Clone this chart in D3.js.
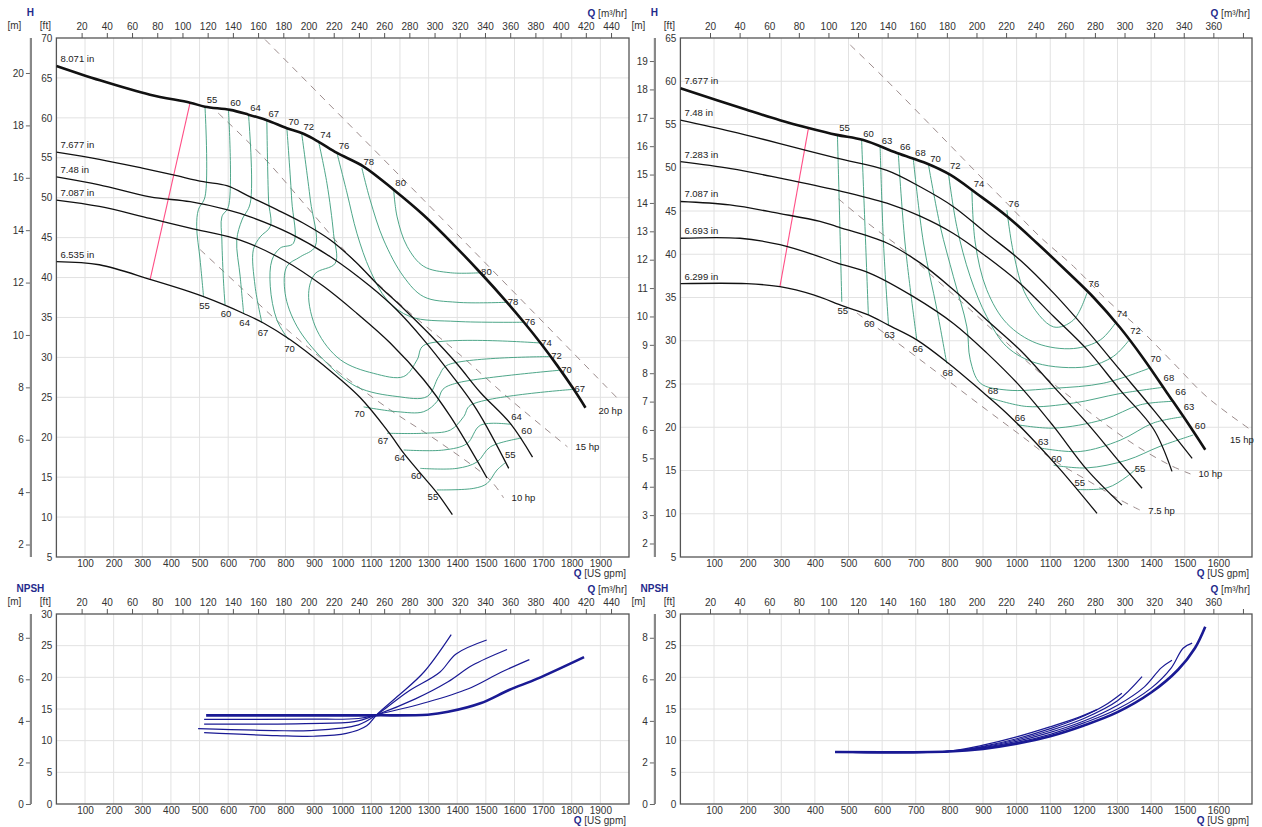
<!DOCTYPE html>
<html><head><meta charset="utf-8">
<script src="https://cdn.jsdelivr.net/npm/d3@7"></script>
<style>body{margin:0;background:#fff;} svg{display:block;font-family:"Liberation Sans",Arial,sans-serif;}</style>
</head><body>
<svg id="c" width="1262" height="827"></svg>
<script>
// ---------------- DATA (Q in US gpm, H in ft) ----------------
const L_gpmTicks = [100,200,300,400,500,600,700,800,900,1000,1100,1200,1300,1400,1500,1600,1700,1800,1900];
const R_gpmTicks = [100,200,300,400,500,600,700,800,900,1000,1100,1200,1300,1400,1500,1600];
const L_m3Ticks = [20,40,60,80,100,120,140,160,180,200,220,240,260,280,300,320,340,360,380,400,420,440];
const R_m3Ticks = [20,40,60,80,100,120,140,160,180,200,220,240,260,280,300,320,340,360,380];
const L_ftTicks = [5,10,15,20,25,30,35,40,45,50,55,60,65,70];
const R_ftTicks = [5,10,15,20,25,30,35,40,45,50,55,60,65];
const L_mTicks = [2,4,6,8,10,12,14,16,18,20];
const R_mTicks = [2,3,4,5,6,7,8,9,10,11,12,13,14,15,16,17,18,19];
const N_ftTicks = [0,5,10,15,20,25,30];
const N_mTicks = [0,2,4,6,8];

// Left pump impeller curves
const L_diameters = ["8.071 in","7.677 in","7.48 in","7.087 in","6.535 in"];
const L_H_8071 = [[0,66.5],[152,64.7],[327,62.9],[467,61.9],[519,61.4],[607,61.0],[671,60.4],[735,59.7],[805,58.7],[863,58.0],[916,57.0],[980,55.6],[1073,53.9],[1178,51.0],[1283,47.8],[1388,44.1],[1481,40.6],[1574,36.9],[1633,34.4],[1691,31.8],[1749,29.0],[1807,26.0],[1848,23.7]];
const L_H_7677 = [[0,55.7],[150,54.8],[300,53.7],[408,52.85],[513,52.0],[595,51.5],[677,50.1],[770,48.5],[863,46.8],[957,44.7],[1050,41.8],[1120,39.2],[1213,36.1],[1306,32.8],[1399,29.2],[1481,25.6],[1586,21.7],[1663,17.5]];
const L_H_748 = [[0,52.6],[150,51.6],[327,50.1],[467,49.5],[595,48.5],[677,47.6],[817,45.5],[957,42.6],[1096,38.9],[1190,35.9],[1283,32.2],[1376,28.0],[1469,23.4],[1580,16.1]];
const L_H_7087 = [[0,49.7],[150,48.9],[327,47.4],[467,46.2],[642,44.7],[793,42.2],[933,38.9],[1050,35.5],[1166,31.8],[1283,27.2],[1376,22.6],[1504,14.9]];
const L_H_6535 = [[0,42.0],[150,41.6],[333,39.7],[467,38.2],[514,37.6],[584,36.6],[654,35.5],[723,34.3],[817,32.2],[933,29.0],[1060,25.0],[1161,20.6],[1213,18.0],[1271,15.5],[1330,13.0],[1383,10.3]];
const L_curves = [L_H_8071,L_H_7677,L_H_748,L_H_7087,L_H_6535];

// Left efficiency lines (%)
const L_effLevelsA = [55,60,64,67,70,72,74,76,78,80];
const L_effA = [
 [[519,61.4],[519,50.1],[496,48.5],[490,46.4],[502,42.2],[514,37.6]],
 [[601,61.0],[601,48.9],[578,47.6],[578,44.7],[584,39.3],[589,36.6]],
 [[671,60.4],[677,49.3],[648,47.2],[630,44.7],[642,40.1],[654,35.5]],
 [[735,59.7],[741,49.7],[747,46.4],[712,45.1],[688,43.5],[694,38.9],[718,34.3]],
 [[805,58.7],[822,49.7],[828,44.3],[782,43.7],[753,42.2],[747,38.9],[770,34.7],[811,32.2]],
 [[857,58.0],[887,49.7],[904,43.9],[852,42.6],[805,41.4],[799,38.0],[840,33.9],[933,29.7],[1050,26.3],[1190,25.1],[1295,25.1],[1335,27.6],[1364,29.0],[1726,30.1]],
 [[916,57.0],[945,51.8],[968,45.5],[974,41.8],[904,40.5],[881,38.0],[910,33.4],[992,29.7],[1108,28.0],[1213,27.6],[1260,29.7],[1283,31.5],[1691,31.8]],
 [[980,55.6],[1015,50.6],[1050,45.5],[1096,40.9],[1155,37.2],[1236,35.1],[1399,34.5],[1633,34.4]],
 [[1067,53.7],[1096,49.7],[1143,44.7],[1213,40.1],[1283,37.6],[1399,36.9],[1574,36.9]],
 [[1178,51.0],[1190,47.6],[1225,43.9],[1283,41.4],[1376,40.6],[1481,40.6]]
];
const L_effLevelsB = [70,67,64,60,55];
const L_effB = [
 [[1073,23.8],[1190,23.2],[1283,23.2],[1330,24.5],[1350,26.0],[1400,26.8],[1761,28.4]],
 [[1155,20.5],[1283,20.5],[1376,20.9],[1423,22.6],[1446,24.0],[1807,26.0]],
 [[1213,18.4],[1353,18.4],[1434,19.2],[1481,21.5],[1590,21.6]],
 [[1271,16.1],[1399,16.1],[1469,16.9],[1516,18.8],[1625,19.9]],
 [[1329,13.4],[1458,13.6],[1504,14.2],[1539,15.9],[1568,16.8]]
];
const L_powerNames = ["20 hp","15 hp","10 hp"];
const L_power = [
 [[729,69.8],[1283,49.7],[1970,24.5]],
 [[565,60.6],[722,55.1],[876,48.8],[1027,42.6],[1212,36.3],[1401,30.6],[1586,24.7],[1785,18.8]],
 [[502,43.5],[643,38.8],[818,33.1],[992,28.0],[1167,23.4],[1341,19.3],[1516,14.6],[1562,12.4]]
];
const L_pink = [[467,61.9],[327,39.7]];

// Right pump impeller curves
const R_diameters = ["7.677 in","7.48 in","7.283 in","7.087 in","6.693 in","6.299 in"];
const R_H_7677 = [[0,59.2],[197,56.7],[296,55.5],[381,54.6],[465,53.8],[544,53.2],[644,51.7],[733,50.5],[802,49.2],[882,47.0],[971,44.4],[1060,41.3],[1150,38.0],[1229,35.0],[1308,31.5],[1378,27.9],[1447,24.0],[1507,20.6],[1561,17.4]];
const R_H_748 = [[0,55.5],[150,54.2],[296,52.8],[465,51.1],[614,49.7],[713,47.8],[812,45.5],[911,42.4],[1011,39.3],[1110,35.5],[1209,31.2],[1308,26.6],[1407,22.0],[1522,16.4]];
const R_H_7283 = [[0,50.7],[150,49.9],[296,48.8],[465,47.4],[614,45.9],[713,44.4],[812,42.4],[911,39.7],[1011,36.6],[1110,32.8],[1209,29.0],[1308,24.3],[1407,19.8],[1462,14.9]];
const R_H_7087 = [[0,46.1],[147,45.7],[296,44.7],[415,43.8],[465,43.2],[614,41.3],[713,39.0],[812,35.9],[911,32.4],[1011,28.9],[1110,24.7],[1209,20.5],[1308,15.9],[1373,12.95]];
const R_H_6693 = [[0,41.85],[177,41.85],[296,41.1],[415,39.7],[465,39.0],[564,37.8],[693,35.1],[812,32.0],[911,28.6],[1011,24.7],[1110,20.1],[1209,15.1],[1313,11.0]];
const R_H_6299 = [[0,36.6],[197,36.6],[296,36.25],[396,35.3],[485,34.0],[559,33.0],[619,31.8],[703,30.1],[797,27.4],[892,24.3],[971,21.6],[1050,18.5],[1130,15.1],[1239,10.05]];
const R_curves = [R_H_7677,R_H_748,R_H_7283,R_H_7087,R_H_6693,R_H_6299];

const R_effLevelsA = [55,60,63,66,68,70,72,74,76];
const R_effA = [
 [[467,53.8],[473,45.1],[480,34.5]],
 [[539,53.2],[549,43.2],[559,33.0]],
 [[594,52.4],[604,41.3],[619,31.8]],
 [[648,51.7],[668,41.3],[703,30.1]],
 [[693,50.9],[723,41.3],[763,33.6],[792,27.4]],
 [[738,50.3],[773,43.2],[812,37.4],[852,31.6],[862,27.8],[892,25.1],[971,24.3],[1110,24.5],[1259,25.1],[1393,26.8]],
 [[797,49.4],[822,43.2],[862,37.4],[911,32.8],[971,29.3],[1060,27.4],[1209,27.0],[1288,28.2],[1333,30.0]],
 [[867,47.4],[877,41.3],[911,35.9],[971,32.0],[1060,29.7],[1169,29.1],[1249,30.1],[1293,32.0]],
 [[971,45.1],[991,40.1],[1030,35.1],[1110,31.6],[1169,32.4],[1209,35.5]]
];
const R_effLevelsB = [68,66,63,60,55];
const R_effB = [
 [[921,23.4],[1030,22.4],[1169,22.8],[1308,23.9],[1432,24.6]],
 [[1001,20.3],[1110,19.9],[1259,20.9],[1368,22.6],[1467,23.0]],
 [[1070,17.6],[1189,17.2],[1308,18.5],[1407,20.5],[1492,21.2]],
 [[1110,15.6],[1209,15.3],[1328,16.2],[1427,17.8],[1525,19.1]],
 [[1179,12.8],[1269,13.0],[1328,14.3],[1358,15.3]]
];
const R_powerNames = ["15 hp","10 hp","7.5 hp"];
const R_power = [
 [[505,64.2],[603,60.5],[792,53.0],[882,49.4],[971,45.9],[1070,42.0],[1169,38.6],[1269,34.7],[1368,31.3],[1467,27.4],[1566,23.5],[1700,19.6]],
 [[470,46.4],[564,43.4],[663,40.5],[763,37.0],[862,33.6],[961,30.1],[1060,26.6],[1159,23.5],[1259,20.5],[1358,17.8],[1457,15.6],[1517,14.6]],
 [[525,33.2],[634,30.1],[792,25.5],[911,22.0],[1011,19.1],[1110,16.2],[1209,13.9],[1308,11.6],[1368,10.4]]
];
const R_pink = [[381,54.6],[296,36.25]];

// NPSH (ft)
const L_npsh_8071 = [[523,14.0],[700,14.0],[900,14.0],[1112,14.0],[1297,14.1],[1368,14.55],[1481,15.9],[1581,18.0],[1680,19.8],[1843,23.2]];
const L_npsh_7677 = [[516,13.35],[880,13.4],[1055,13.5],[1119,14.1],[1297,16.1],[1439,18.2],[1553,20.8],[1652,22.8]];
const L_npsh_748 = [[516,12.6],[870,12.7],[1041,13.0],[1119,14.1],[1254,16.6],[1368,19.3],[1453,21.9],[1574,24.4]];
const L_npsh_7087 = [[495,11.9],[760,11.6],[885,11.6],[1055,12.5],[1119,14.1],[1226,17.7],[1339,20.8],[1396,23.7],[1503,25.9]];
const L_npsh_6535 = [[516,11.26],[770,10.8],[899,10.7],[1013,11.15],[1084,12.36],[1119,14.1],[1197,17.2],[1283,20.8],[1379,26.75]];
const L_npsh = [L_npsh_8071,L_npsh_7677,L_npsh_748,L_npsh_7087,L_npsh_6535];

const R_npsh_7677 = [[460,8.2],[800,8.3],[900,8.7],[1000,9.5],[1100,10.7],[1200,12.4],[1300,14.5],[1400,17.6],[1480,21.2],[1530,24.6],[1561,28.0]];
const R_npsh_748 = [[460,8.2],[800,8.3],[900,8.8],[1000,9.7],[1100,11.0],[1200,12.8],[1300,15.0],[1400,18.3],[1460,21.5],[1495,24.6],[1522,25.4]];
const R_npsh_7283 = [[460,8.2],[800,8.3],[900,8.9],[1000,9.9],[1100,11.3],[1200,13.1],[1300,15.6],[1380,18.5],[1430,21.5],[1462,22.7]];
const R_npsh_7087 = [[460,8.2],[800,8.3],[900,9.0],[1000,10.1],[1100,11.6],[1200,13.5],[1300,16.3],[1373,20.1]];
const R_npsh_6693 = [[460,8.2],[800,8.3],[900,9.1],[1000,10.3],[1100,11.9],[1200,13.9],[1260,15.5],[1313,17.5]];
const R_npsh_6299 = [[460,8.2],[800,8.35],[900,9.3],[1000,10.6],[1100,12.2],[1180,13.6],[1239,14.9]];
const R_npsh = [R_npsh_7677,R_npsh_748,R_npsh_7283,R_npsh_7087,R_npsh_6693,R_npsh_6299];

// ---------------- DRAWING ----------------
const GPM_PER_M3H = 4.402868, FT_PER_M = 3.28084;
const BLUE = "#1f2a8c", TXT = "#333";
const svg = d3.select("#c");

function makePanel(p){
  const g = svg.append("g");
  const x = d3.scaleLinear().domain([0,p.qMax]).range([p.x0,p.x1]);
  const y = d3.scaleLinear().domain([p.hMin,p.hMax]).range([p.y1,p.y0]);
  const xm3 = d3.scaleLinear().domain([0,p.qMax/GPM_PER_M3H]).range([p.x0,p.x1]);
  const ym = d3.scaleLinear().domain([p.hMin/FT_PER_M,p.hMax/FT_PER_M]).range([p.y1,p.y0]);
  g.append("g").selectAll("line").data(p.gpmTicks).join("line")
    .attr("x1",d=>x(d)).attr("x2",d=>x(d)).attr("y1",p.y0).attr("y2",p.y1)
    .attr("stroke","#e2e2e2").attr("stroke-width",1);
  g.append("g").selectAll("line").data(p.ftTicks.filter(t=>t>p.hMin&&t<p.hMax)).join("line")
    .attr("x1",p.x0).attr("x2",p.x1).attr("y1",d=>y(d)).attr("y2",d=>y(d))
    .attr("stroke","#e2e2e2").attr("stroke-width",1);
  const style = sel=>{ sel.selectAll("text").attr("font-family","Liberation Sans, Arial, sans-serif").attr("font-size",10).attr("fill",TXT);
    sel.selectAll("line").attr("stroke","#555"); sel.select(".domain").remove(); };
  const fmt = d3.format("d");
  const top = d3.axisTop(xm3).tickValues(p.m3Ticks).tickSize(5).tickPadding(3)
    .tickFormat(d=> (p.x1 - xm3(d) > 12) ? fmt(d) : "");
  g.append("g").attr("transform",`translate(0,${p.y0})`).call(top).call(style);
  const bot = d3.axisBottom(x).tickValues(p.gpmTicks).tickSize(0).tickPadding(3).tickFormat(fmt);
  g.append("g").attr("transform",`translate(0,${p.y1})`).call(bot).call(style);
  const lft = d3.axisLeft(y).tickValues(p.ftTicks).tickSize(0).tickPadding(4).tickFormat(fmt);
  g.append("g").attr("transform",`translate(${p.x0},0)`).call(lft).call(style);
  const mx = p.x0 - 25.5;
  const mAx = d3.axisLeft(ym).tickValues(p.mTicks).tickSize(5).tickPadding(2).tickFormat(fmt);
  g.append("g").attr("transform",`translate(${mx},0)`).call(mAx).call(style)
    .selectAll("line").attr("stroke","#666");
  g.append("line").attr("x1",mx).attr("x2",mx).attr("y1",p.y0).attr("y2",p.y1)
    .attr("stroke","#888").attr("stroke-width",2.2);
  g.append("rect").attr("x",p.x0).attr("y",p.y0).attr("width",p.x1-p.x0).attr("height",p.y1-p.y0)
    .attr("fill","none").attr("stroke","#555").attr("stroke-width",1.3);
  g.append("text").attr("x",p.x0-26).attr("y",p.y0-25).attr("text-anchor","middle").attr("dominant-baseline","middle")
    .attr("font-size",10).attr("font-weight","bold").attr("fill",BLUE).text(p.title);
  g.append("text").attr("x",p.x0-42).attr("y",p.y0-11.5).attr("text-anchor","middle").attr("dominant-baseline","middle")
    .attr("font-size",10).attr("fill",TXT).text("[m]");
  g.append("text").attr("x",p.x0-11).attr("y",p.y0-11.5).attr("text-anchor","middle").attr("dominant-baseline","middle")
    .attr("font-size",10).attr("fill",TXT).text("[ft]");
  const qt = g.append("text").attr("x",p.x1-2).attr("y",p.y0-24).attr("text-anchor","end").attr("dominant-baseline","middle").attr("font-size",10);
  qt.append("tspan").attr("font-weight","bold").attr("fill",BLUE).text("Q");
  qt.append("tspan").attr("fill",TXT).text(" [m³/hr]");
  const qb = g.append("text").attr("x",p.x1-3).attr("y",p.y1+17).attr("text-anchor","end").attr("dominant-baseline","middle").attr("font-size",10);
  qb.append("tspan").attr("font-weight","bold").attr("fill",BLUE).text("Q");
  qb.append("tspan").attr("fill",TXT).text(" [US gpm]");
  const clipId = "clip"+Math.round(p.x0)+"_"+Math.round(p.y0);
  svg.append("clipPath").attr("id",clipId).append("rect").attr("x",p.x0).attr("y",p.y0).attr("width",p.x1-p.x0).attr("height",p.y1-p.y0);
  const plot = svg.append("g").attr("clip-path",`url(#${clipId})`);
  const labels = svg.append("g");
  const line = d3.line().x(d=>x(d[0])).y(d=>y(d[1])).curve(d3.curveCatmullRom.alpha(0.5));
  return {x,y,plot,labels,line,p};
}

function txt(g,xp,yp,s,anchor){
  g.append("text").attr("x",xp).attr("y",yp).attr("text-anchor",anchor||"middle").attr("dominant-baseline","middle")
   .attr("font-size",9.5).attr("fill","#222").text(s);
}

function interpH(pts,q){
  for (let i=1;i<pts.length;i++){
    if (q<=pts[i][0]){ const a=pts[i-1], b=pts[i]; return a[1]+(b[1]-a[1])*(q-a[0])/(b[0]-a[0]); }
  }
  return pts[pts.length-1][1];
}

function drawHead(P, curves, names, effA, levA, effB, levB, power, powNames, pink, startOff, endOff, innerOff){
  const {x,y,plot,labels,line,p} = P;
  power.forEach((pts,i)=>{
    plot.append("path").attr("d",line(pts)).attr("fill","none").attr("stroke","#9c8c8c").attr("stroke-width",1)
      .attr("stroke-dasharray","7,6");
    const e = pts[pts.length-1]; const ex=x(e[0]), ey=y(e[1]);
    if (ex > p.x1-40) txt(labels,ex-22,ey+10,powNames[i],"start");
    else txt(labels,ex+8,ey+1,powNames[i],"start");
  });
  const G="#3a9c7c";
  const endLabel = (e,lev)=>{
    const onThick = Math.abs(interpH(curves[0],e[0]) - e[1]) < 1.5;
    const o = onThick ? endOff : innerOff;
    txt(labels,x(e[0])+o[0],y(e[1])+o[1],lev);
  };
  effA.forEach((pts,i)=>{
    plot.append("path").attr("d",line(pts)).attr("fill","none").attr("stroke",G).attr("stroke-width",0.9);
    const s=pts[0], e=pts[pts.length-1];
    txt(labels,x(s[0])+7,y(s[1])-6,levA[i]);
    if (e[0]-s[0] > 150) endLabel(e,levA[i]);
    else txt(labels,x(e[0])+1,y(e[1])+10,levA[i]);
  });
  effB.forEach((pts,i)=>{
    plot.append("path").attr("d",line(pts)).attr("fill","none").attr("stroke",G).attr("stroke-width",0.9);
    const s=pts[0], e=pts[pts.length-1];
    txt(labels,x(s[0])+startOff[0],y(s[1])+startOff[1],levB[i]);
    endLabel(e,levB[i]);
  });
  plot.append("path").attr("d",d3.line().x(d=>x(d[0])).y(d=>y(d[1]))(pink)).attr("fill","none")
    .attr("stroke","#ff4f86").attr("stroke-width",1.1);
  curves.forEach((pts,i)=>{
    plot.append("path").attr("d",line(pts)).attr("fill","none").attr("stroke","#111")
      .attr("stroke-width", i===0?2.6:1.3).attr("stroke-linecap","butt");
    labels.append("text").attr("x",x(0)+4).attr("y",y(pts[0][1])-4).attr("font-size",9.5).attr("fill","#222").text(names[i]);
  });
}

function drawNpsh(P, curves){
  const {plot,line} = P;
  curves.forEach((pts,i)=>{
    plot.append("path").attr("d",line(pts)).attr("fill","none").attr("stroke","#1a1a94")
      .attr("stroke-width", i===0?2.6:1.2);
  });
}

const LT = makePanel({x0:56.4,x1:629,y0:38,y1:557,qMax:2000,hMin:5,hMax:70,gpmTicks:L_gpmTicks,m3Ticks:L_m3Ticks,ftTicks:L_ftTicks,mTicks:L_mTicks,title:"H"});
const RT = makePanel({x0:680.4,x1:1252,y0:38,y1:557,qMax:1700,hMin:5,hMax:65,gpmTicks:R_gpmTicks,m3Ticks:R_m3Ticks,ftTicks:R_ftTicks,mTicks:R_mTicks,title:"H"});
const LN = makePanel({x0:56.4,x1:629,y0:614,y1:804,qMax:2000,hMin:0,hMax:30,gpmTicks:L_gpmTicks,m3Ticks:L_m3Ticks,ftTicks:N_ftTicks,mTicks:N_mTicks,title:"NPSH"});
const RN = makePanel({x0:680.4,x1:1252,y0:614,y1:804,qMax:1700,hMin:0,hMax:30,gpmTicks:R_gpmTicks,m3Ticks:R_m3Ticks,ftTicks:N_ftTicks,mTicks:N_mTicks,title:"NPSH"});

drawHead(LT, L_curves, L_diameters, L_effA, L_effLevelsA, L_effB, L_effLevelsB, L_power, L_powerNames, L_pink, [-4,8], [6,0], [5,-7]);
drawHead(RT, R_curves, R_diameters, R_effA, R_effLevelsA, R_effB, R_effLevelsB, R_power, R_powerNames, R_pink, [3,-6], [7,-9], [3,2]);
drawNpsh(LN, L_npsh);
drawNpsh(RN, R_npsh);
</script>
</body></html>
